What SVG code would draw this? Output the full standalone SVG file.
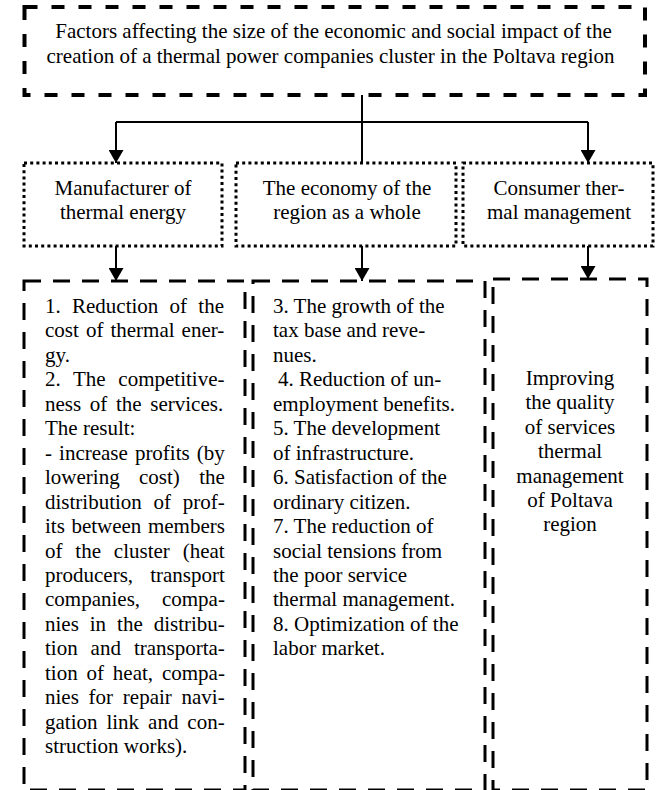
<svg xmlns="http://www.w3.org/2000/svg" width="659" height="790" viewBox="0 0 659 790">
<style>
.t{font-family:"Liberation Serif","Times New Roman",serif;font-size:21px;fill:#000}
.c{text-anchor:middle}
.top{fill:#fff;stroke:#000;stroke-width:4;stroke-dasharray:13 14}
.dot{fill:#fff;stroke:#000;stroke-width:3;stroke-dasharray:3 3.2}
.dash{fill:#fff;stroke:#000;stroke-width:3;stroke-dasharray:17 12}
.ln{fill:none;stroke:#000;stroke-width:2}
</style>
<defs>
<marker id="ah" markerUnits="userSpaceOnUse" markerWidth="13" markerHeight="15" refX="13" refY="7.5" orient="auto">
<path d="M0,0 L13,7.5 L0,15 z" fill="#000"/>
</marker>
</defs>
<rect width="659" height="790" fill="#fff"/>

<g id="title">
<rect class="top" x="24.5" y="7" width="620.5" height="88"/>
<text class="t c" x="333.5" y="38">Factors affecting the size of the economic and social impact of the</text>
<text class="t c" x="330.5" y="63">creation of a thermal power companies cluster in the Poltava region</text>
</g>

<g id="connectors">
<path class="ln" d="M362,95 V163"/>
<path class="ln" d="M116,122 H588"/>
<path class="ln" d="M116,122 V163" marker-end="url(#ah)"/>
<path class="ln" d="M588,122 V163" marker-end="url(#ah)"/>
<path class="ln" d="M116,246 V281" marker-end="url(#ah)"/>
<path class="ln" d="M362,246 V281" marker-end="url(#ah)"/>
<path class="ln" d="M588,246 V279" marker-end="url(#ah)"/>
</g>

<g id="manufacturer">
<rect class="dot" x="24" y="163" width="198" height="83"/>
<text class="t c" x="123" y="195">Manufacturer of</text>
<text class="t c" x="123" y="219">thermal energy</text>
</g>

<g id="economy">
<rect class="dot" x="236" y="163" width="220" height="83"/>
<text class="t c" x="347" y="195">The economy of the</text>
<text class="t c" x="347" y="219">region as a whole</text>
</g>

<g id="consumer">
<rect class="dot" x="463" y="163" width="190" height="83"/>
<text class="t c" x="559" y="195">Consumer ther-</text>
<text class="t c" x="559" y="219">mal management</text>
</g>

<g id="manufacturer-effects">
<rect class="dash" x="24" y="281" width="221" height="509"/>
<text class="t" x="45" y="313" word-spacing="6">1. Reduction of the</text>
<text class="t" x="45" y="337.45" word-spacing="1.8">cost of thermal ener-</text>
<text class="t" x="45" y="361.9">gy.</text>
<text class="t" x="45" y="386.35" word-spacing="7.4">2. The competitive-</text>
<text class="t" x="45" y="410.8" word-spacing="3.4">ness of the services.</text>
<text class="t" x="45" y="435.25">The result:</text>
<text class="t" x="45" y="459.7" word-spacing="1.8">- increase profits (by</text>
<text class="t" x="45" y="484.15" word-spacing="14.1">lowering cost) the</text>
<text class="t" x="45" y="508.6" word-spacing="6.5">distribution of prof-</text>
<text class="t" x="45" y="533.05" word-spacing="1.3">its between members</text>
<text class="t" x="45" y="557.5" word-spacing="7.6">of the cluster (heat</text>
<text class="t" x="45" y="581.95" word-spacing="11.9">producers, transport</text>
<text class="t" x="45" y="606.4" word-spacing="16.6">companies, compa-</text>
<text class="t" x="45" y="630.85" word-spacing="5.7">nies in the distribu-</text>
<text class="t" x="45" y="655.3" word-spacing="7.7">tion and transporta-</text>
<text class="t" x="45" y="679.75" word-spacing="3.6">tion of heat, compa-</text>
<text class="t" x="45" y="704.2" word-spacing="4.5">nies for repair navi-</text>
<text class="t" x="45" y="728.65" word-spacing="3.7">gation link and con-</text>
<text class="t" x="45" y="753.1">struction works).</text>
</g>

<g id="economy-effects">
<rect class="dash" x="253" y="281" width="232" height="509"/>
<text class="t" x="273" y="313">3. The growth of the</text>
<text class="t" x="273" y="337.45">tax base and reve-</text>
<text class="t" x="273" y="361.9">nues.</text>
<text class="t" x="278" y="386.35">4. Reduction of un-</text>
<text class="t" x="273" y="410.8">employment benefits.</text>
<text class="t" x="273" y="435.25">5. The development</text>
<text class="t" x="273" y="459.7">of infrastructure.</text>
<text class="t" x="273" y="484.15">6. Satisfaction of the</text>
<text class="t" x="273" y="508.6">ordinary citizen.</text>
<text class="t" x="273" y="533.05">7. The reduction of</text>
<text class="t" x="273" y="557.5">social tensions from</text>
<text class="t" x="273" y="581.95">the poor service</text>
<text class="t" x="273" y="606.4">thermal management.</text>
<text class="t" x="273" y="630.85">8. Optimization of the</text>
<text class="t" x="273" y="655.3">labor market.</text>
</g>

<g id="consumer-effects">
<rect class="dash" x="493" y="279" width="154" height="511"/>
<text class="t c" x="570" y="385">Improving</text>
<text class="t c" x="570" y="409.4">the quality</text>
<text class="t c" x="570" y="433.8">of services</text>
<text class="t c" x="570" y="458.2">thermal</text>
<text class="t c" x="570" y="482.6">management</text>
<text class="t c" x="570" y="507">of Poltava</text>
<text class="t c" x="570" y="531.4">region</text>
</g>
</svg>
